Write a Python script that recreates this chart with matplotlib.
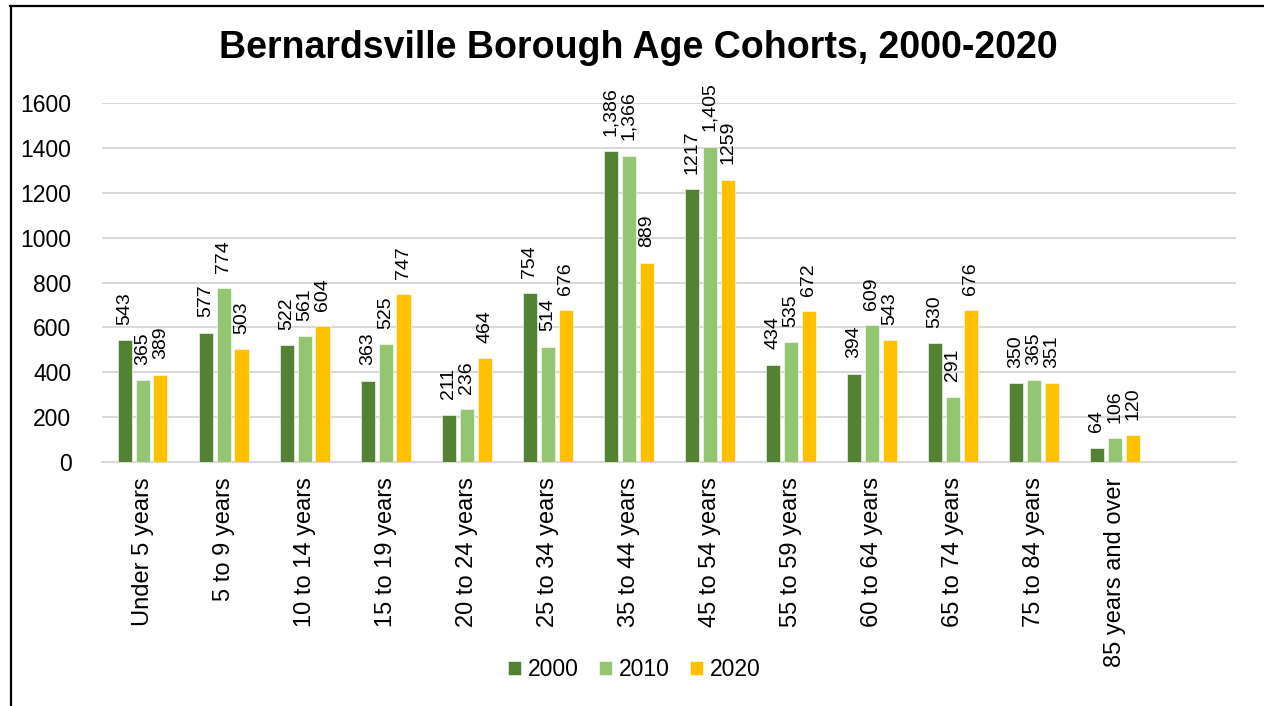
import matplotlib

matplotlib.use("Agg")
import matplotlib.pyplot as plt
from matplotlib.lines import Line2D

plt.rcParams["font.family"] = ["Liberation Sans", "DejaVu Sans"]

categories = [
    "Under 5 years", "5 to 9 years", "10 to 14 years", "15 to 19 years",
    "20 to 24 years", "25 to 34 years", "35 to 44 years", "45 to 54 years",
    "55 to 59 years", "60 to 64 years", "65 to 74 years", "75 to 84 years",
    "85 years and over", "",
]
years = ["2000", "2010", "2020"]
values_2000 = [543, 577, 522, 363, 211, 754, 1386, 1217, 434, 394, 530, 350, 64]
values_2010 = [365, 774, 561, 525, 236, 514, 1366, 1405, 535, 609, 291, 365, 106]
values_2020 = [389, 503, 604, 747, 464, 676, 889, 1259, 672, 543, 676, 351, 120]
# labels in the source are formatted with a thousands separator only for these
comma_labels = {("2000", 6), ("2010", 6), ("2010", 7)}
colors = ["#548235", "#93C572", "#FFC000"]

fig = plt.figure(figsize=(12.64, 7.06), dpi=100)
ax = fig.add_axes([0.0807, 0.3456, 0.8972, 0.5085])

pitch = 0.222
width = 0.173
series = [values_2000, values_2010, values_2020]
for i, (year, vals, color) in enumerate(zip(years, series, colors)):
    xs = [k + (i - 1) * pitch for k in range(len(vals))]
    bars = ax.bar(xs, vals, width=width, color=color, label=year,
                  edgecolor="white", linewidth=0.4, zorder=3)
    for k, (bar, v) in enumerate(zip(bars, vals)):
        txt = f"{v:,}" if (year, k) in comma_labels else f"{v}"
        ax.annotate(txt, (bar.get_x() + bar.get_width() / 2, v),
                    xytext=(0, 11), textcoords="offset points",
                    rotation=90, ha="center", va="bottom", fontsize=14,
                    annotation_clip=False)

ax.set_xlim(-0.5, len(categories) - 0.5)
ax.set_ylim(0, 1600)
ax.set_yticks(range(0, 1601, 200))
ax.set_xticks(range(len(categories)))
ax.set_xticklabels(categories, rotation=90, fontsize=17)
ax.tick_params(axis="y", labelsize=16.5, length=0, pad=22)
ax.tick_params(axis="x", length=0, pad=11)
ax.grid(True, axis="y", color="#D9D9D9", linewidth=1.5, zorder=0)
for side in ["top", "right", "left"]:
    ax.spines[side].set_visible(False)
ax.spines["bottom"].set_color("#D9D9D9")
ax.spines["bottom"].set_linewidth(1.5)

fig.text(0.505, 0.932, "Bernardsville Borough Age Cohorts, 2000-2020",
         ha="center", va="center", fontsize=27, fontweight="bold")

fig.legend(loc="center", bbox_to_anchor=(0.502, 0.051), ncol=3, frameon=False,
           fontsize=16.5, handlelength=0.55, handleheight=0.55,
           handletextpad=0.3, columnspacing=0.9)

fig.add_artist(Line2D([0.0087, 0.0087], [0.0, 0.991], color="black",
                      linewidth=1.6, transform=fig.transFigure))
fig.add_artist(Line2D([0.008, 1.0], [0.991, 0.991], color="black",
                      linewidth=1.6, transform=fig.transFigure))

fig.savefig("out.png", dpi=100)
